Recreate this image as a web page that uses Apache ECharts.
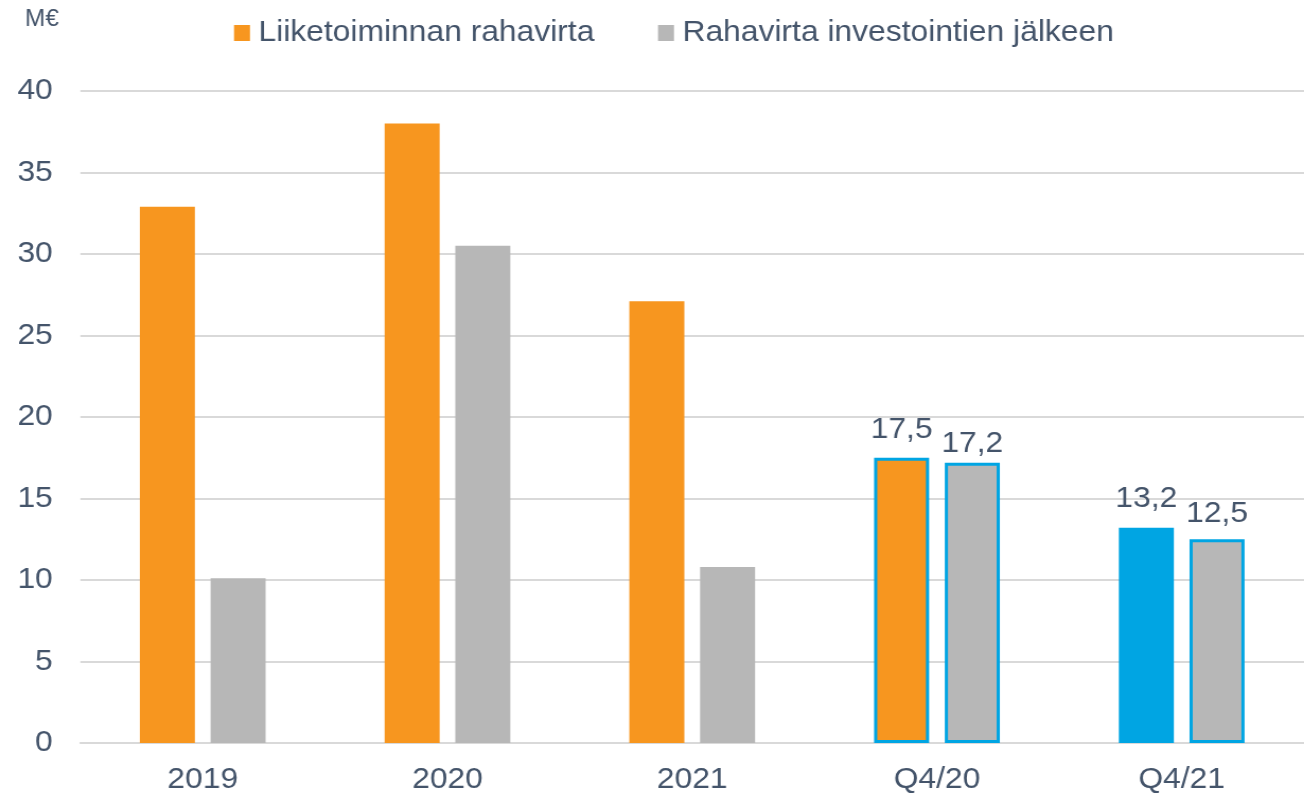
<!DOCTYPE html>
<html>
<head>
<meta charset="utf-8">
<script src="https://cdn.jsdelivr.net/npm/echarts@6/dist/echarts.min.js"></script>
<style>
html, body { margin: 0; padding: 0; background: #fff; overflow: hidden; }
/* alkuperäinen kuva on hieman venytetty vaakasuunnassa */
#chart { width: 1230px; height: 797px; transform: scaleX(1.0602); transform-origin: 0 0; }
</style>
</head>
<body>
<div id="chart"></div>
<script>
var categories = ['2019', '2020', '2021', 'Q4/20', 'Q4/21'];
var operatingCashFlow = [32.9, 38.0, 27.1, 17.5, 13.2];
var cashFlowAfterInvestments = [10.1, 30.5, 10.8, 17.2, 12.5];
var seriesNames = ['Liiketoiminnan rahavirta', 'Rahavirta investointien jälkeen'];

var textColor = '#44546A';
var orange = '#F7961F';
var grey = '#B7B7B7';
var blue = '#00A5E3';

// vuosineljännekset saavat sinisen reunan ja arvotekstin
function buildData(values, color, lastColor, distances){
	var out = [];
	for (var i = 0; i < values.length; i++) {
		var item = { value: values[i] };
		if (i >= 3) {
			item.itemStyle = {
				color: (i === 4 && lastColor) ? lastColor : color,
				borderColor: blue,
				borderWidth: 3
			};
			item.label = { show: true, distance: distances[i - 3] };
		}
		out.push(item);
	}
	return out;
}

function fmt(p){
	return String(p.value.toFixed ? p.value.toFixed(1) : p.value).replace('.', ',');
}

var chart = echarts.init(document.getElementById('chart'));
var option = {
	animation: false,
	textStyle: { fontFamily: 'Liberation Sans, Arial, sans-serif' },
	grid: { left: 75.8, top: 91, width: 1158.3, height: 652, containLabel: false },
	graphic: [{
		type: 'text',
		left: 23.5, top: 8,
		style: { text: 'M€', fontSize: 23, fill: textColor, fontFamily: 'Liberation Sans' }
	}],
	legend: {
		top: 18, left: 220.7, padding: 0,
		itemWidth: 15.1, itemHeight: 16, itemGap: 60,
		icon: 'rect',
		textStyle: { fontSize: 30, lineHeight: 30, color: textColor, padding: [0, 0, 0, 3] },
		data: seriesNames
	},
	xAxis: {
		type: 'category',
		data: categories,
		axisLine: { lineStyle: { color: '#D9D9D9', width: 2 } },
		axisTick: { show: false },
		axisLabel: { fontSize: 30, color: textColor, margin: 22 }
	},
	yAxis: {
		type: 'value',
		min: 0, max: 40, interval: 5,
		splitLine: { lineStyle: { color: '#D9D9D9', width: 2 } },
		axisLabel: { fontSize: 30, color: textColor, margin: 26 }
	},
	series: [
		{
			name: seriesNames[0],
			type: 'bar',
			barWidth: 51.9,
			barGap: '28.5%',
			itemStyle: { color: orange },
			label: { show: false, position: 'top', fontSize: 30, color: textColor, formatter: fmt },
			data: buildData(operatingCashFlow, orange, blue, [13, 14])
		},
		{
			name: seriesNames[1],
			type: 'bar',
			barWidth: 51.9,
			barGap: '28.5%',
			itemStyle: { color: grey },
			label: { show: false, position: 'top', fontSize: 30, color: textColor, formatter: fmt },
			data: buildData(cashFlowAfterInvestments, grey, null, [4, 11])
		}
	]
};
chart.setOption(option);
</script>
</body>
</html>
